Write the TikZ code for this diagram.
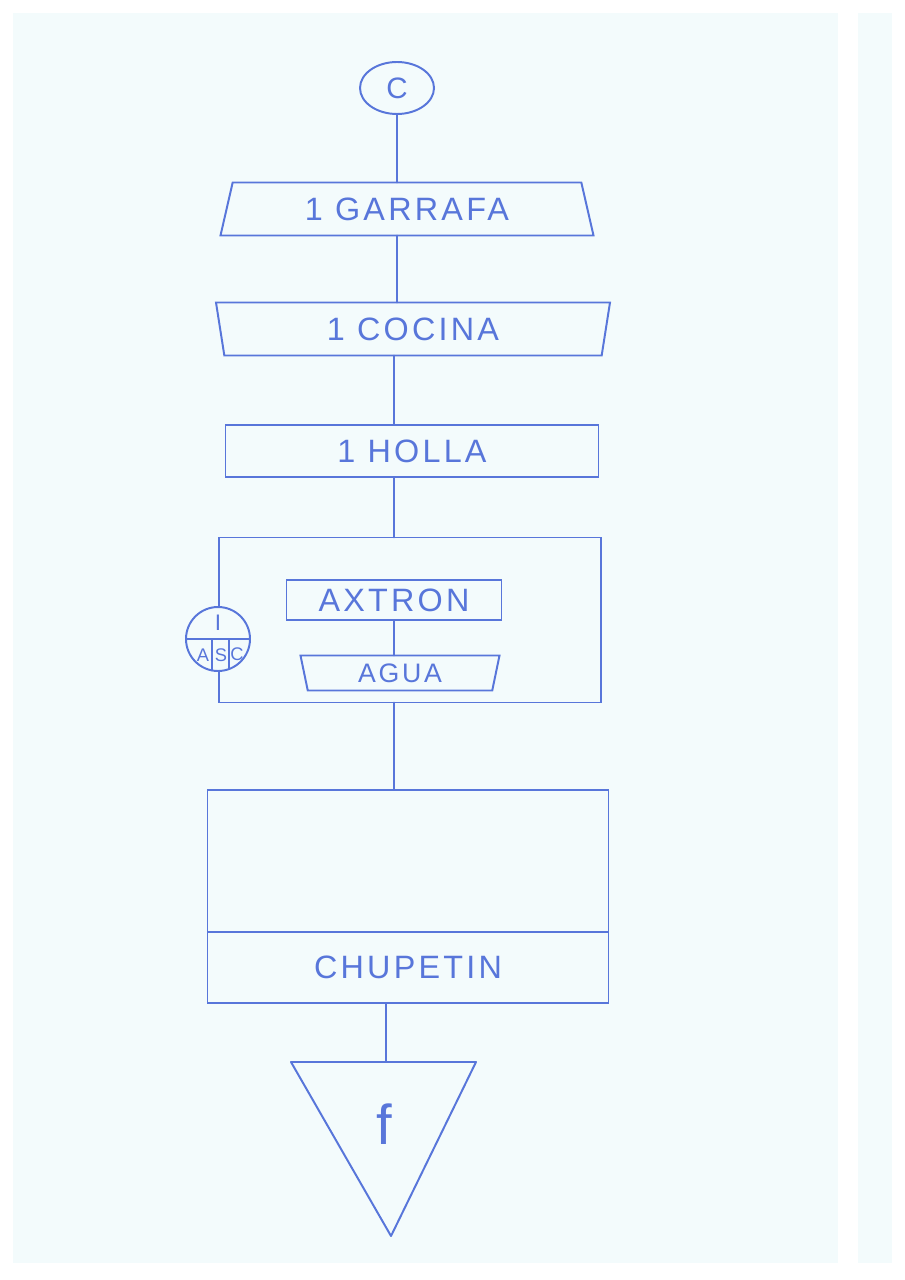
\documentclass[tikz,border=0pt]{standalone}
\usepackage{fontspec}
\setmainfont{Liberation Sans}[LetterSpace=10]
\usetikzlibrary{shapes.geometric}
\definecolor{tinta}{RGB}{88,118,218}
\definecolor{papel}{RGB}{243,251,252}
\newdimen\pxu \pxu=0.025cm
\tikzset{
  trazo/.style={draw=tinta, line width=1.4pt},
  linea/.style={trazo, line cap=round},
  caja/.style={trazo, rectangle, inner sep=0pt, outer sep=0pt, text=tinta,
    font=\fontsize{23}{26}\selectfont},
  entrada/.style={caja, trapezium, trapezium stretches body},
  letra/.style={text=tinta, inner sep=0pt},
}
\begin{document}
\begin{tikzpicture}[x=0.025cm, y=-0.025cm]
% Paper
\useasboundingbox (0,0) rectangle (905,1280);
\fill[white] (0,0) rectangle (905,1280);
\fill[papel] (13,13) rectangle (838,1263);
\fill[papel] (858,13) rectangle (892,1263);

% Start connector
\node[caja, ellipse, minimum width=74\pxu, minimum height=52\pxu,
  font=\fontsize{21}{24}\selectfont] (inicio) at (397,88) {C};

% Inputs
\node[entrada, trapezium angle=62, minimum width=373\pxu, minimum height=53\pxu]
  (garrafa) at (407,209) {1 GARRAFA};
\node[entrada, trapezium angle=110, minimum width=394\pxu, minimum height=53\pxu]
  (cocina) at (413,329) {1 COCINA};
\node[caja, minimum width=373\pxu, minimum height=52\pxu] (holla) at (412,451) {1 HOLLA};

% Loop
\node[caja, minimum width=382\pxu, minimum height=165\pxu] (ciclo) at (410,620) {};
\node[caja, minimum width=215\pxu, minimum height=40\pxu] (axtron) at (394,600) {AXTRON};
\node[entrada, trapezium angle=111, minimum width=199\pxu, minimum height=35\pxu,
  font=\fontsize{19}{22}\selectfont] (agua) at (400,673) {AGUA};
\node[caja, circle, fill=papel, minimum size=64\pxu] (bucle) at (218,639) {};
\draw[linea] (bucle.west) -- (bucle.east);
\draw[linea] (bucle.-101) -- (bucle.-101 |- bucle.center);
\draw[linea] (bucle.-69) -- (bucle.-69 |- bucle.center);
\node[letra, font=\fontsize{16}{18}\selectfont] (bI) at (218,623) {I};
\node[letra, font=\fontsize{13}{15}\selectfont] (bA) at (203,655) {A};
\node[letra, font=\fontsize{13}{15}\selectfont] (bS) at (221,655) {S};
\node[letra, font=\fontsize{13}{15}\selectfont] (bC) at (237,654) {C};

% Block
\node[caja, minimum width=401\pxu, minimum height=142\pxu] (bloque) at (408,861) {};
\node[caja, minimum width=401\pxu, minimum height=71\pxu, anchor=north]
  (chupetin) at (bloque.south) {CHUPETIN};

% End
\coordinate (fin) at (386,1062);
\draw[trazo, line join=round] (291,1062) -- (476,1062) -- (391,1236) -- cycle;
\node[letra, font=\fontsize{40}{44}\selectfont] (f) at (384,1124) {f};

% Connectors
\draw[linea] (inicio.south) -- (inicio.south |- garrafa.north);
\draw[linea] (garrafa.south -| inicio) -- (cocina.north -| inicio);
\draw[linea] (cocina.south -| axtron) -- (holla.north -| axtron);
\draw[linea] (holla.south -| axtron) -- (ciclo.north -| axtron);
\draw[linea] (axtron.south) -- (axtron.south |- agua.north);
\draw[linea] (ciclo.south -| axtron) -- (bloque.north -| axtron);
\draw[linea] (chupetin.south -| fin) -- (fin);
\end{tikzpicture}
\end{document}
